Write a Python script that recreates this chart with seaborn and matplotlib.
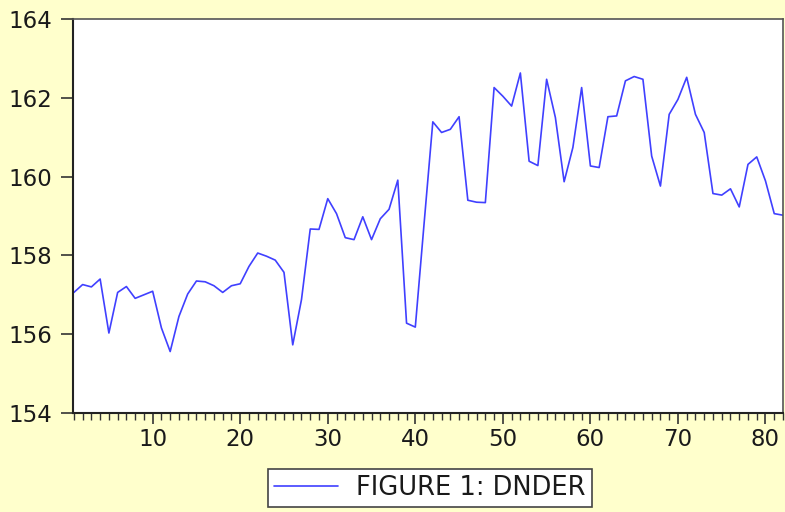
import matplotlib
matplotlib.use("Agg")
import matplotlib.pyplot as plt
import seaborn as sns
import pandas as pd
from matplotlib.ticker import MultipleLocator

series_name = "FIGURE 1: DNDER"
values = [
    157.06, 157.26, 157.20, 157.40, 156.03, 157.06, 157.21, 156.91, 157.00, 157.09,
    156.16, 155.56, 156.45, 157.02, 157.35, 157.33, 157.23, 157.06, 157.23, 157.28,
    157.72, 158.06, 157.98, 157.88, 157.57, 155.73, 156.88, 158.67, 158.66, 159.44,
    159.06, 158.45, 158.40, 158.98, 158.40, 158.93, 159.17, 159.91, 156.28, 156.18,
    158.80, 161.39, 161.12, 161.20, 161.52, 159.40, 159.35, 159.34, 162.26, 162.04,
    161.79, 162.63, 160.39, 160.28, 162.47, 161.50, 159.87, 160.74, 162.26, 160.27,
    160.23, 161.52, 161.54, 162.43, 162.54, 162.47, 160.52, 159.76, 161.58, 161.96,
    162.52, 161.58, 161.12, 159.57, 159.53, 159.69, 159.23, 160.31, 160.50, 159.89,
    159.06, 159.02,
]
obs = list(range(1, len(values) + 1))
y_ticks = [154, 156, 158, 160, 162, 164]
x_ticks = [10, 20, 30, 40, 50, 60, 70, 80]

df = pd.DataFrame({"obs": obs, "value": values, "series": series_name})

sns.set_theme(style="white")
plt.rcParams["font.family"] = ["DejaVu Sans"]

bg = "#FFFFCC"
line_color = "#4040ff"
fig = plt.figure(figsize=(7.85, 5.12), dpi=100, facecolor=bg)
ax = fig.add_axes([73 / 785, 1 - 413 / 512, (783 - 73) / 785, (413 - 19) / 512])
ax.set_facecolor("white")

sns.lineplot(data=df, x="obs", y="value", hue="series", palette=[line_color],
             linewidth=1.2, ax=ax, legend=False)

ax.set_xlim(0.9, 82.0)
ax.set_ylim(154, 164)
ax.set_xticks(x_ticks)
ax.set_yticks(y_ticks)
ax.xaxis.set_minor_locator(MultipleLocator(1))
ax.tick_params(axis="x", which="major", direction="out", length=8, width=1.2,
               color="#333333", labelsize=16.5, pad=3, bottom=True,
               labelcolor="#1a1a1a")
ax.tick_params(axis="x", which="minor", direction="out", length=5, width=1.0,
               color="#333333", bottom=True)
ax.tick_params(axis="y", which="major", direction="out", length=9, width=1.2,
               color="#333333", labelsize=16.5, pad=6, left=True,
               labelcolor="#1a1a1a")
ax.set_xlabel("")
ax.set_ylabel("")
for side in ["left", "bottom"]:
    ax.spines[side].set_color("#222222")
    ax.spines[side].set_linewidth(1.5)
for side in ["top", "right"]:
    ax.spines[side].set_color("#555555")
    ax.spines[side].set_linewidth(1.2)

handle = plt.Line2D([], [], color=line_color, linewidth=1.2)
leg = fig.legend([handle], [series_name], loc="center",
                 bbox_to_anchor=(430 / 785, 1 - 488 / 512),
                 frameon=True, fancybox=False, framealpha=1.0, fontsize=18.5,
                 handlelength=2.5, borderpad=0.25, handletextpad=0.7,
                 labelcolor="#1a1a1a")
leg.get_frame().set_edgecolor("#444444")
leg.get_frame().set_linewidth(1.2)
leg.get_frame().set_facecolor("white")

fig.savefig("out.png", dpi=100, facecolor=bg)
